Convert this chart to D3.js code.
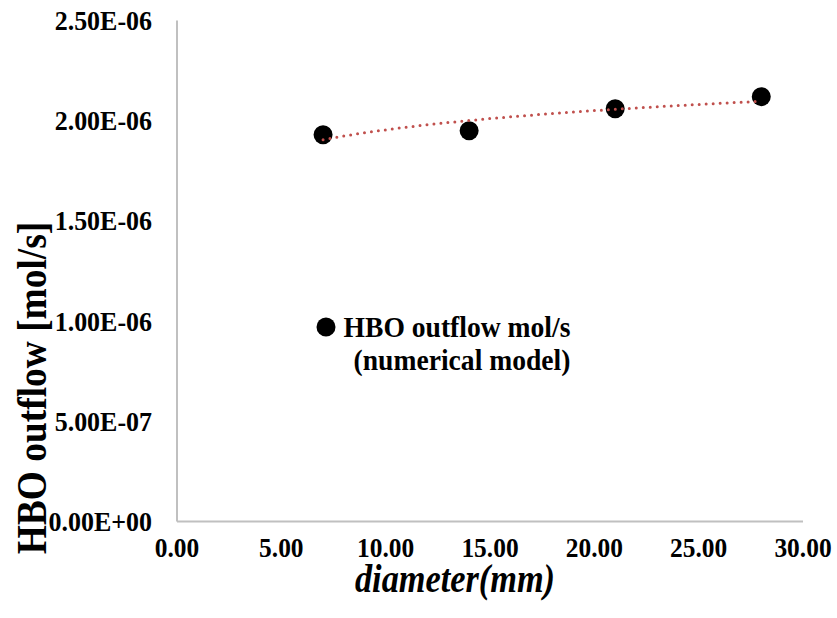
<!DOCTYPE html>
<html>
<head>
<meta charset="utf-8">
<script src="https://cdn.jsdelivr.net/npm/d3@7"></script>
<style>
  html, body { margin: 0; padding: 0; background: #fff; }
  svg { display: block; }
  text { font-family: "Liberation Serif", "Times New Roman", serif; font-weight: bold; fill: #000; }
</style>
</head>
<body>
<svg id="chart" width="837" height="618"></svg>
<script>
// ---- data ----
const diameters = [7, 14, 21, 28];
const outflows = [1.93e-6, 1.95e-6, 2.06e-6, 2.12e-6];
const xTicks = [0, 5, 10, 15, 20, 25, 30];
const yTicks = [0, 5e-7, 1e-6, 1.5e-6, 2e-6, 2.5e-6];
const xTitle = "diameter(mm)";
const yTitle = "HBO outflow [mol/s]";
const legendLines = ["HBO outflow mol/s", "(numerical model)"];

const svg = d3.select("#chart");
const x = d3.scaleLinear().domain([0, 30]).range([177, 803]);
const y = d3.scaleLinear().domain([0, 2.5e-6]).range([521.5, 20.5]);

// axis lines
const axisColor = "#c0c0c0";
svg.append("line").attr("x1", x(0)).attr("x2", x(0)).attr("y1", y(2.5e-6)).attr("y2", y(0))
  .attr("stroke", axisColor).attr("stroke-width", 2);
svg.append("line").attr("x1", x(0)).attr("x2", x(30)).attr("y1", y(0)).attr("y2", y(0))
  .attr("stroke", axisColor).attr("stroke-width", 2);

// y tick labels
const expFmt = v => {
  if (v === 0) return "0.00E+00";
  const e = Math.floor(Math.log10(v) + 1e-9);
  const m = v / Math.pow(10, e);
  const sign = e < 0 ? "-" : "+";
  return m.toFixed(2) + "E" + sign + String(Math.abs(e)).padStart(2, "0");
};
svg.append("g").selectAll("text").data(yTicks).join("text")
  .attr("transform", d => `translate(152,${y(d)}) scale(0.98,1)`)
  .attr("dy", "0.36em")
  .attr("text-anchor", "end").style("font-size", "26.5px")
  .text(expFmt);

// x tick labels
svg.append("g").selectAll("text").data(xTicks).join("text")
  .attr("transform", d => `translate(${x(d)},557) scale(0.96,1)`)
  .attr("text-anchor", "middle").style("font-size", "26.5px")
  .text(d => d.toFixed(2));

// axis titles
svg.append("text").attr("transform", "translate(455,592) scale(0.88,1)")
  .attr("text-anchor", "middle").style("font-size", "39px").style("font-style", "italic")
  .text(xTitle);
svg.append("text").attr("transform", "translate(46,388) rotate(-90) scale(0.87,1)")
  .attr("text-anchor", "middle").style("font-size", "43px")
  .text(yTitle);

// logarithmic trendline fitted to the data
const lx = diameters.map(Math.log);
const mx = d3.mean(lx), my = d3.mean(outflows);
const a = d3.sum(lx.map((v, i) => (v - mx) * (outflows[i] - my))) / d3.sum(lx.map(v => (v - mx) ** 2));
const b = my - a * mx;
const trendX = d3.range(diameters[0], diameters[diameters.length - 1] + 0.001, 0.25);
const line = d3.line().x(d => x(d)).y(d => y(a * Math.log(d) + b));

// markers
svg.append("g").selectAll("circle").data(diameters).join("circle")
  .attr("cx", d => x(d)).attr("cy", (d, i) => y(outflows[i])).attr("r", 9.5)
  .attr("fill", "#000");

svg.append("path").datum(trendX).attr("d", line)
  .attr("fill", "none").attr("stroke", "#c0504d").attr("stroke-width", 3)
  .attr("stroke-linecap", "round").attr("stroke-dasharray", "0 7");

// legend
svg.append("circle").attr("cx", 326).attr("cy", 327).attr("r", 9.5).attr("fill", "#000");
svg.append("g").selectAll("text").data(legendLines).join("text")
  .attr("transform", (d, i) => `translate(${457 + i * 5},${337 + i * 33}) scale(0.92,1)`)
  .attr("text-anchor", "middle").style("font-size", "30px")
  .text(d => d);
</script>
</body>
</html>
